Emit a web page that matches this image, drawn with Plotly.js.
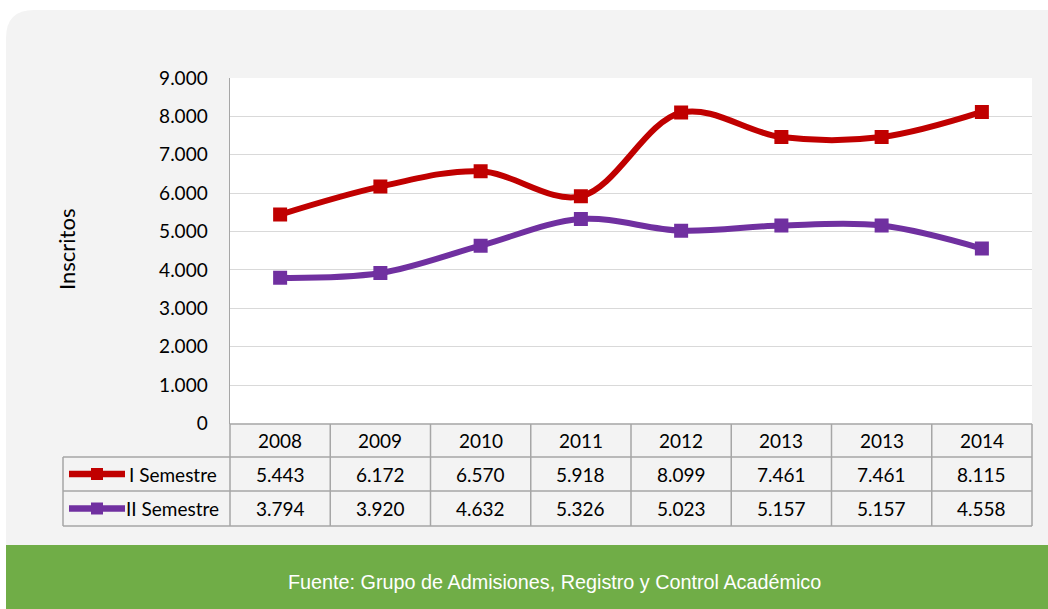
<!DOCTYPE html>
<html>
<head>
<meta charset="utf-8">
<script src="https://cdn.plot.ly/plotly-3.0.1.min.js"></script>
<style>html,body{margin:0;padding:0;background:#fff;}#chart{width:1048px;height:609px;}</style>
</head>
<body>
<div id="chart"></div>
<script>
// ---- data ----
const years = ["2008", "2009", "2010", "2011", "2012", "2013", "2013", "2014"];
const seriesNames = ["I Semestre", "II Semestre"];
const semestre1 = [5443, 6172, 6570, 5918, 8099, 7461, 7461, 8115];
const semestre2 = [3794, 3920, 4632, 5326, 5023, 5157, 5157, 4558];
const yTicks = [0, 1000, 2000, 3000, 4000, 5000, 6000, 7000, 8000, 9000];
const yTitle = "Inscritos";
const sourceText = "Fuente: Grupo de Admisiones, Registro y Control Académico";

// ---- geometry helpers (pixel -> paper) ----
const W = 1048, H = 609;
const px = v => v / W;
const py = v => 1 - v / H;

const colors = ["#c00000", "#7030a0"];
const FONT = "Lato, 'DejaVu Sans', sans-serif";
const FS = 19;
const fmt = v => v.toLocaleString('de-DE');

const plotL = 230, plotR = 1032, plotT = 78, plotB = 423.5;
const idx = years.map((_, i) => i);

const traces = [semestre1, semestre2].map((vals, k) => ({
  type: 'scatter', mode: 'lines+markers',
  x: idx, y: vals, name: seriesNames[k],
  line: {color: colors[k], width: 6, shape: 'spline', smoothing: 1},
  marker: {symbol: 'square', size: 14, color: colors[k]},
  hoverinfo: 'skip'
}));

const shapes = [];
const annotations = [];
const grid = '#a6a6a6';

// card background with rounded top-left corner
const cx0 = 6, cy0 = 10, cy1 = 546, r = 28;
shapes.push({
  type: 'path', xref: 'paper', yref: 'paper', layer: 'below',
  path: `M ${px(cx0)},${py(cy1)} L ${px(cx0)},${py(cy0 + r)} Q ${px(cx0)},${py(cy0)} ${px(cx0 + r)},${py(cy0)} L ${px(W)},${py(cy0)} L ${px(W)},${py(cy1)} Z`,
  fillcolor: '#f3f3f3', line: {width: 0}
});
// plot area white
shapes.push({type: 'rect', xref: 'paper', yref: 'paper', layer: 'below',
  x0: px(plotL), x1: px(plotR), y0: py(plotB), y1: py(plotT),
  fillcolor: '#ffffff', line: {width: 0}});
// green footer
shapes.push({type: 'rect', xref: 'paper', yref: 'paper', layer: 'below',
  x0: px(6), x1: px(W), y0: py(H), y1: py(545),
  fillcolor: '#70ad47', line: {width: 0}});

// table
const rowY = [424, 457, 491, 526];
const colXs = [];
for (let i = 0; i <= years.length; i++) colXs.push(plotL + (plotR - plotL) * i / years.length);
const line = (x0, y0, x1, y1) => shapes.push({type: 'line', xref: 'paper', yref: 'paper',
  x0: px(x0), y0: py(y0), x1: px(x1), y1: py(y1), line: {color: grid, width: 1.5}});
// horizontal lines
line(plotL, rowY[0], plotR, rowY[0]);
line(63, rowY[1], plotR, rowY[1]);
line(63, rowY[2], plotR, rowY[2]);
line(63, rowY[3], plotR, rowY[3]);
// vertical lines
colXs.forEach(x => line(x, rowY[0], x, rowY[3]));
line(63, rowY[1], 63, rowY[3]);

// header labels
years.forEach((y, i) => {
  const xc = (colXs[i] + colXs[i + 1]) / 2;
  annotations.push({xref: 'paper', yref: 'paper', x: px(xc), y: py((rowY[0] + rowY[1]) / 2),
    text: y, showarrow: false, xanchor: 'center', yanchor: 'middle',
    font: {family: FONT, size: FS, color: '#000'}});
});
// value rows
[semestre1, semestre2].forEach((vals, k) => {
  const yc = (rowY[k + 1] + rowY[k + 2]) / 2;
  vals.forEach((v, i) => {
    const xc = (colXs[i] + colXs[i + 1]) / 2;
    annotations.push({xref: 'paper', yref: 'paper', x: px(xc), y: py(yc),
      text: fmt(v), showarrow: false, xanchor: 'center', yanchor: 'middle',
      font: {family: FONT, size: FS, color: '#000'}});
  });
  // legend key
  shapes.push({type: 'line', xref: 'paper', yref: 'paper',
    x0: px(69), x1: px(125), y0: py(yc), y1: py(yc),
    line: {color: colors[k], width: 6.5}});
  shapes.push({type: 'rect', xref: 'paper', yref: 'paper',
    x0: px(91), x1: px(103), y0: py(yc - 6), y1: py(yc + 6),
    fillcolor: colors[k], line: {width: 0}});
  annotations.push({xref: 'paper', yref: 'paper', x: px(k === 0 ? 127 : 124), y: py(yc),
    text: seriesNames[k], showarrow: false, xanchor: 'left', yanchor: 'middle',
    font: {family: FONT, size: FS, color: '#000'}});
});

// y title
annotations.push({xref: 'paper', yref: 'paper', x: px(67), y: py(250),
  text: yTitle, textangle: -90, showarrow: false, xanchor: 'center', yanchor: 'middle',
  font: {family: FONT, size: 22, color: '#000'}});
// footer
annotations.push({xref: 'paper', yref: 'paper', x: px(554), y: py(582),
  text: sourceText, showarrow: false, xanchor: 'center', yanchor: 'middle',
  font: {family: "'Liberation Sans Narrow', 'Arial Narrow', 'Liberation Sans', sans-serif", size: 19.8, color: '#ffffff'}});

const layout = {
  width: W, height: H,
  margin: {l: 0, r: 0, t: 0, b: 0},
  paper_bgcolor: '#ffffff', plot_bgcolor: '#ffffff',
  separators: ',.',
  showlegend: false,
  xaxis: {domain: [px(plotL), px(plotR)], range: [-0.5, years.length - 0.5],
    showgrid: false, zeroline: false, showticklabels: false, ticks: '', showline: false, fixedrange: true},
  yaxis: {domain: [py(plotB), py(plotT)], range: [0, 9000],
    tickvals: yTicks, tickformat: ',d',
    showgrid: true, gridcolor: '#d9d9d9', gridwidth: 1,
    zeroline: false, showline: true, linecolor: grid, linewidth: 1.5,
    ticks: 'outside', ticklen: 17, tickcolor: 'rgba(0,0,0,0)',
    tickfont: {family: FONT, size: FS, color: '#000'}, fixedrange: true},
  shapes: shapes,
  annotations: annotations,
  font: {family: FONT}
};

Plotly.newPlot('chart', traces, layout, {displayModeBar: false, staticPlot: true});
</script>
</body>
</html>
